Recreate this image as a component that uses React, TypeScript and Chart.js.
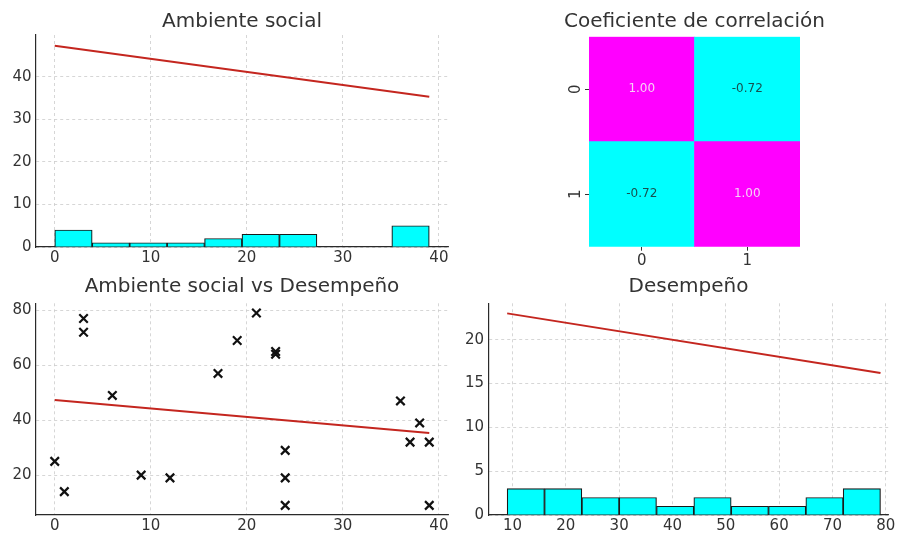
import React, { useEffect, useRef } from 'react';
import { Chart, registerables } from 'chart.js';

Chart.register(...registerables);

// ---------------- data ----------------
const socialScores = [0, 1, 3, 3, 6, 9, 12, 17, 19, 21, 23, 23, 24, 24, 24, 36, 37, 38, 39, 39];
const performanceScores = [25, 14, 77, 72, 49, 20, 19, 57, 69, 79, 65, 64, 29, 19, 9, 47, 32, 39, 32, 9];

const socialBinEdges = [0, 3.9, 7.8, 11.7, 15.6, 19.5, 23.4, 27.3, 31.2, 35.1, 39];
const socialBinCounts = [4, 1, 1, 1, 2, 3, 3, 0, 0, 5];
const perfBinEdges = [9, 16, 23, 30, 37, 44, 51, 58, 65, 72, 79];
const perfBinCounts = [3, 3, 2, 2, 1, 2, 1, 1, 2, 3];

const trendX = [0, 39];
const trendY = [47.3, 35.3];
const perfTrendX = [9, 79];
const perfTrendY = [23.0, 16.2];

const corrLabels = ['0', '1'];
const corrMatrix = [
  [1.0, -0.72],
  [-0.72, 1.0],
];

const socialTicks = [0, 10, 20, 30, 40];
const socialCountTicks = [0, 10, 20, 30, 40];
const perfValueTicks = [20, 40, 60, 80];
const perfTicks = [10, 20, 30, 40, 50, 60, 70, 80];
const perfCountTicks = [0, 5, 10, 15, 20];

const titles = ['Ambiente social', 'Coeficiente de correlación', 'Ambiente social vs Desempeño', 'Desempeño'];

// ---------------- style ----------------
const FONT = "'DejaVu Sans', sans-serif";
const TEXT = '#333333';
const GRID = '#cccccc';
const SPINE = '#2a2a2a';
const RED = '#c4261f';
const CYAN = '#00ffff';
const EDGE = '#1a1a1a';

type Rect = { x: number; y: number; w: number; h: number };

function linScale(min: number, max: number, ticks: number[], size: number, pad: number, isX: boolean) {
  return {
    type: 'linear',
    min,
    max,
    offset: false,
    afterBuildTicks: (s: any) => {
      s.ticks = ticks.map((v) => ({ value: v }));
    },
    afterFit: (s: any) => {
      if (isX) s.height = size;
      else s.width = size;
    },
    grid: { color: GRID, lineWidth: 0.8, drawTicks: false, offset: false },
    border: { display: true, color: SPINE, width: 1.2, dash: [3, 3] },
    ticks: {
      color: TEXT,
      font: { family: FONT, size: 15 },
      padding: pad,
      autoSkip: false,
      maxRotation: 0,
      minRotation: 0,
      callback: (v: any) => String(v),
    },
  };
}

function titleOpts(text: string, top: number, bottom: number, fullSize = false) {
  return {
    display: true,
    text,
    fullSize,
    color: TEXT,
    font: { family: FONT, size: 20, weight: 'normal', lineHeight: 1 },
    padding: { top, bottom },
  };
}

function baseOptions(rightPad: number) {
  return {
    responsive: false,
    animation: false,
    devicePixelRatio: 1,
    layout: { padding: { left: 0, top: 0, right: rightPad, bottom: 0 } },
  };
}

function histConfig(
  edges: number[],
  counts: number[],
  lx: number[],
  ly: number[],
  title: string,
  xr: [number, number],
  yr: [number, number],
  xt: number[],
  yt: number[],
  yW: number,
  xH: number,
  rightPad: number,
  tTop: number,
  tBottom: number
) {
  const bars = counts.map((c, i) => ({ x: (edges[i] + edges[i + 1]) / 2, y: c }));
  const line = lx.map((x, i) => ({ x, y: ly[i] }));
  return {
    type: 'bar',
    data: {
      datasets: [
        {
          type: 'line',
          data: line,
          borderColor: RED,
          borderWidth: 2,
          pointRadius: 0,
          fill: false,
        },
        {
          type: 'bar',
          data: bars,
          backgroundColor: CYAN,
          borderColor: EDGE,
          borderWidth: 1.2,
          barPercentage: 1,
          categoryPercentage: 1,
        },
      ],
    },
    options: {
      ...baseOptions(rightPad),
      plugins: {
        legend: { display: false },
        tooltip: { enabled: false },
        title: titleOpts(title, tTop, tBottom),
      },
      scales: {
        x: linScale(xr[0], xr[1], xt, xH, 2, true),
        y: linScale(yr[0], yr[1], yt, yW, 4.5, false),
      },
    },
  };
}

function scatterConfig() {
  const pts = socialScores.map((x, i) => ({ x, y: performanceScores[i] }));
  const line = trendX.map((x, i) => ({ x, y: trendY[i] }));
  return {
    type: 'scatter',
    data: {
      datasets: [
        {
          data: line,
          showLine: true,
          borderColor: RED,
          borderWidth: 2,
          pointRadius: 0,
        },
        {
          data: pts,
          pointStyle: 'crossRot',
          pointRadius: 6,
          borderColor: '#111111',
          backgroundColor: '#111111',
          pointBorderWidth: 2.2,
          borderWidth: 2.2,
          showLine: false,
        },
      ],
    },
    options: {
      ...baseOptions(12),
      plugins: {
        legend: { display: false },
        tooltip: { enabled: false },
        title: titleOpts(titles[2], 7, 6.3),
      },
      scales: {
        x: linScale(-1.95, 40.95, socialTicks, 18, 2, true),
        y: linScale(5.5, 82.5, perfValueTicks, 36, 4.5, false),
      },
    },
  };
}

function cool(v: number, vmin: number, vmax: number) {
  const t = (v - vmin) / (vmax - vmin);
  return `rgb(${Math.round(255 * t)}, ${Math.round(255 * (1 - t))}, 255)`;
}

function heatConfig() {
  const flat = corrMatrix.flat();
  const vmin = Math.min(...flat);
  const vmax = Math.max(...flat);
  // dataset 0 = bottom row (label "1"), dataset 1 = top row (label "0")
  const rows = [1, 0];
  const cellTextPlugin = {
    id: 'cellText',
    afterDatasetsDraw(chart: any) {
      const ctx = chart.ctx;
      ctx.save();
      ctx.font = `12px ${FONT}`;
      ctx.textAlign = 'center';
      ctx.textBaseline = 'middle';
      rows.forEach((row, di) => {
        chart.getDatasetMeta(di).data.forEach((el: any, j: number) => {
          const v = corrMatrix[row][j];
          const t = (v - vmin) / (vmax - vmin);
          const lum = 0.2126 * t + 0.7152 * (1 - t) + 0.0722;
          ctx.fillStyle = lum > 0.408 ? '#17504f' : '#f6d0f6';
          ctx.fillText(v.toFixed(2), el.x, (el.y + el.base) / 2);
        });
      });
      ctx.restore();
    },
  };
  return {
    type: 'bar',
    data: {
      labels: corrLabels,
      datasets: rows.map((row) => ({
        data: corrLabels.map(() => 1),
        backgroundColor: corrMatrix[row].map((v) => cool(v, vmin, vmax)),
        borderWidth: 0,
        barPercentage: 1,
        categoryPercentage: 1,
        yAxisID: 'y',
      })),
    },
    plugins: [cellTextPlugin],
    options: {
      ...baseOptions(0),
      plugins: {
        legend: { display: false },
        tooltip: { enabled: false },
        title: titleOpts(titles[1], 11.5, 5.2, true),
      },
      scales: {
        x: {
          type: 'category',
          stacked: true,
          offset: true,
          afterFit: (s: any) => {
            s.height = 18.3;
          },
          grid: { display: true, drawOnChartArea: false, drawTicks: true, tickLength: 4, offset: false, color: TEXT, lineWidth: 1 },
          border: { display: false },
          ticks: { color: TEXT, font: { family: FONT, size: 15 }, padding: 1, maxRotation: 0, minRotation: 0 },
        },
        y: {
          type: 'linear',
          position: 'left',
          stacked: true,
          min: 0,
          max: 2,
          afterBuildTicks: (s: any) => {
            s.ticks = [{ value: 1.5 }, { value: 0.5 }];
          },
          afterFit: (s: any) => {
            s.width = 49;
          },
          grid: { display: true, drawOnChartArea: false, drawTicks: true, tickLength: 4, color: TEXT, lineWidth: 1 },
          border: { display: false },
          ticks: {
            color: TEXT,
            font: { family: FONT, size: 15 },
            padding: 4,
            minRotation: 90,
            maxRotation: 90,
            crossAlign: 'center',
            autoSkip: false,
            callback: (v: any) => corrLabels[Math.round(1.5 - v)],
          },
        },
        yRight: {
          type: 'linear',
          position: 'right',
          min: 0,
          max: 2,
          display: true,
          afterFit: (s: any) => {
            s.width = 49;
          },
          grid: { display: false },
          border: { display: false },
          ticks: { display: false },
        },
      },
    },
  };
}

function Panel({ rect, build }: { rect: Rect; build: () => any }) {
  const ref = useRef<HTMLCanvasElement>(null);
  useEffect(() => {
    const chart = new Chart(ref.current as HTMLCanvasElement, build());
    return () => chart.destroy();
  }, []);
  return (
    <canvas
      ref={ref}
      width={rect.w}
      height={rect.h}
      style={{ position: 'absolute', left: rect.x, top: rect.y, width: rect.w, height: rect.h, display: 'block' }}
    />
  );
}

export default function App() {
  return (
    <div style={{ position: 'fixed', left: 0, top: 0, width: 899, height: 533, background: '#ffffff', overflow: 'hidden' }}>
      <Panel
        rect={{ x: 0, y: 0, w: 460, h: 265 }}
        build={() =>
          histConfig(socialBinEdges, socialBinCounts, trendX, trendY, titles[0], [-1.95, 40.95], [0, 49.8], socialTicks, socialCountTicks, 36, 18, 12, 12, 3)
        }
      />
      <Panel rect={{ x: 540, y: 0, w: 309, h: 265 }} build={heatConfig} />
      <Panel rect={{ x: 0, y: 270, w: 460, h: 263 }} build={scatterConfig} />
      <Panel
        rect={{ x: 460, y: 270, w: 439, h: 263 }}
        build={() =>
          histConfig(perfBinEdges, perfBinCounts, perfTrendX, perfTrendY, titles[3], [5.5, 80.5], [0, 24.15], perfTicks, perfCountTicks, 28.5, 18, 10.5, 7, 6.3)
        }
      />
    </div>
  );
}
